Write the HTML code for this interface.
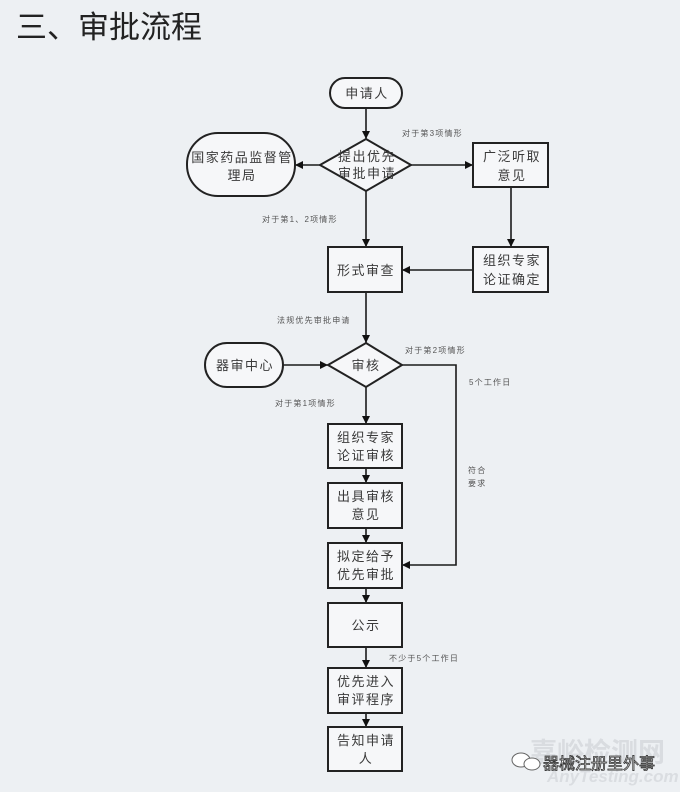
<!DOCTYPE html>
<html>
<head>
<meta charset="utf-8">
<style>
  html,body{margin:0;padding:0;background:#edf0f3;}
  svg{display:block;}
  .t{font-family:"Liberation Sans","Noto Sans CJK SC",sans-serif;}
  .b{font-size:13px;fill:#3a3a3a;letter-spacing:1.5px;text-anchor:middle;}
  .s{font-size:8px;fill:#555;letter-spacing:1.2px;}
</style>
</head>
<body>
<svg width="680" height="792" viewBox="0 0 680 792" xmlns="http://www.w3.org/2000/svg">
  <defs>
    <marker id="ar" viewBox="0 0 10 10" refX="10" refY="5" markerWidth="8" markerHeight="8" markerUnits="userSpaceOnUse" orient="auto">
      <path d="M0,0 L10,5 L0,10 z" fill="#111"/>
    </marker>
  </defs>
  <rect width="680" height="792" fill="#edf0f3"/>

  <!-- Title -->
  <text x="16" y="38" class="t" style="font-size:31px;fill:#222;font-family:'Noto Sans CJK SC',sans-serif;">三、审批流程</text>

  <g stroke="#1a1a1a" stroke-width="1.6" fill="none">
    <line x1="366" y1="108" x2="366" y2="139" marker-end="url(#ar)"/>
    <line x1="320" y1="165" x2="295" y2="165" marker-end="url(#ar)"/>
    <line x1="411" y1="165" x2="473" y2="165" marker-end="url(#ar)"/>
    <line x1="511" y1="187" x2="511" y2="247" marker-end="url(#ar)"/>
    <line x1="473" y1="270" x2="402" y2="270" marker-end="url(#ar)"/>
    <line x1="366" y1="191" x2="366" y2="247" marker-end="url(#ar)"/>
    <line x1="366" y1="292" x2="366" y2="343" marker-end="url(#ar)"/>
    <line x1="283" y1="365" x2="328" y2="365" marker-end="url(#ar)"/>
    <polyline points="402,365 456,365 456,565 402,565" marker-end="url(#ar)"/>
    <line x1="366" y1="387" x2="366" y2="424" marker-end="url(#ar)"/>
    <line x1="366" y1="468" x2="366" y2="483" marker-end="url(#ar)"/>
    <line x1="366" y1="528" x2="366" y2="543" marker-end="url(#ar)"/>
    <line x1="366" y1="588" x2="366" y2="603" marker-end="url(#ar)"/>
    <line x1="366" y1="647" x2="366" y2="668" marker-end="url(#ar)"/>
    <line x1="366" y1="713" x2="366" y2="727" marker-end="url(#ar)"/>
  </g>

  <g stroke="#222" stroke-width="2" fill="#f6f7f9">
    <rect x="330" y="78" width="72" height="30" rx="15"/>
    <rect x="187" y="133" width="108" height="63" rx="31"/>
    <rect x="205" y="343" width="78" height="44" rx="22"/>
    <polygon points="366,139 411,165 366,191 320,165"/>
    <polygon points="366,343 402,365 366,387 328,365"/>
    <rect x="473" y="143" width="75" height="44"/>
    <rect x="473" y="247" width="75" height="45"/>
    <rect x="328" y="247" width="74" height="45"/>
    <rect x="328" y="424" width="74" height="44"/>
    <rect x="328" y="483" width="74" height="45"/>
    <rect x="328" y="543" width="74" height="45"/>
    <rect x="328" y="603" width="74" height="44"/>
    <rect x="328" y="668" width="74" height="45"/>
    <rect x="328" y="727" width="74" height="44"/>
  </g>

  <g class="t">
    <text class="b" x="367" y="98">申请人</text>
    <text class="b" x="242" y="162">国家药品监督管</text>
    <text class="b" x="242" y="180">理局</text>
    <text class="b" x="367" y="161">提出优先</text>
    <text class="b" x="367" y="178">审批申请</text>
    <text class="b" x="512" y="161">广泛听取</text>
    <text class="b" x="512" y="180">意见</text>
    <text class="b" x="512" y="265">组织专家</text>
    <text class="b" x="512" y="284">论证确定</text>
    <text class="b" x="366" y="275">形式审查</text>
    <text class="b" x="245" y="370">器审中心</text>
    <text class="b" x="366" y="370">审核</text>
    <text class="b" x="366" y="442">组织专家</text>
    <text class="b" x="366" y="460">论证审核</text>
    <text class="b" x="366" y="501">出具审核</text>
    <text class="b" x="366" y="519">意见</text>
    <text class="b" x="366" y="561">拟定给予</text>
    <text class="b" x="366" y="579">优先审批</text>
    <text class="b" x="366" y="630">公示</text>
    <text class="b" x="366" y="686">优先进入</text>
    <text class="b" x="366" y="704">审评程序</text>
    <text class="b" x="366" y="745">告知申请</text>
    <text class="b" x="366" y="763">人</text>
  </g>

  <g class="t">
    <text class="s" x="402" y="136">对于第3项情形</text>
    <text class="s" x="262" y="222">对于第1、2项情形</text>
    <text class="s" x="277" y="323">法规优先审批申请</text>
    <text class="s" x="405" y="353">对于第2项情形</text>
    <text class="s" x="469" y="385">5个工作日</text>
    <text class="s" x="275" y="406">对于第1项情形</text>
    <text class="s" x="468" y="473">符合</text>
    <text class="s" x="468" y="486">要求</text>
    <text class="s" x="389" y="661">不少于5个工作日</text>
  </g>

  <g class="t">
    <text x="530" y="762" style="font-size:27px;fill:#d9dce0;font-weight:bold;font-family:'Noto Sans CJK SC',sans-serif;">嘉峪检测网</text>
    <text x="547" y="782" style="font-size:17px;fill:#dadde1;font-weight:bold;font-style:italic;">AnyTesting.com</text>
    <ellipse cx="521" cy="760" rx="9" ry="7" fill="#fff" stroke="#666" stroke-width="1"/>
    <ellipse cx="532" cy="764" rx="8" ry="6" fill="#fff" stroke="#666" stroke-width="1"/>
    <text x="543" y="769" style="font-size:16px;fill:#fff;stroke:#333;stroke-width:0.8px;font-family:'Noto Sans CJK SC',sans-serif;">器械注册里外事</text>
  </g>
</svg>
</body>
</html>
